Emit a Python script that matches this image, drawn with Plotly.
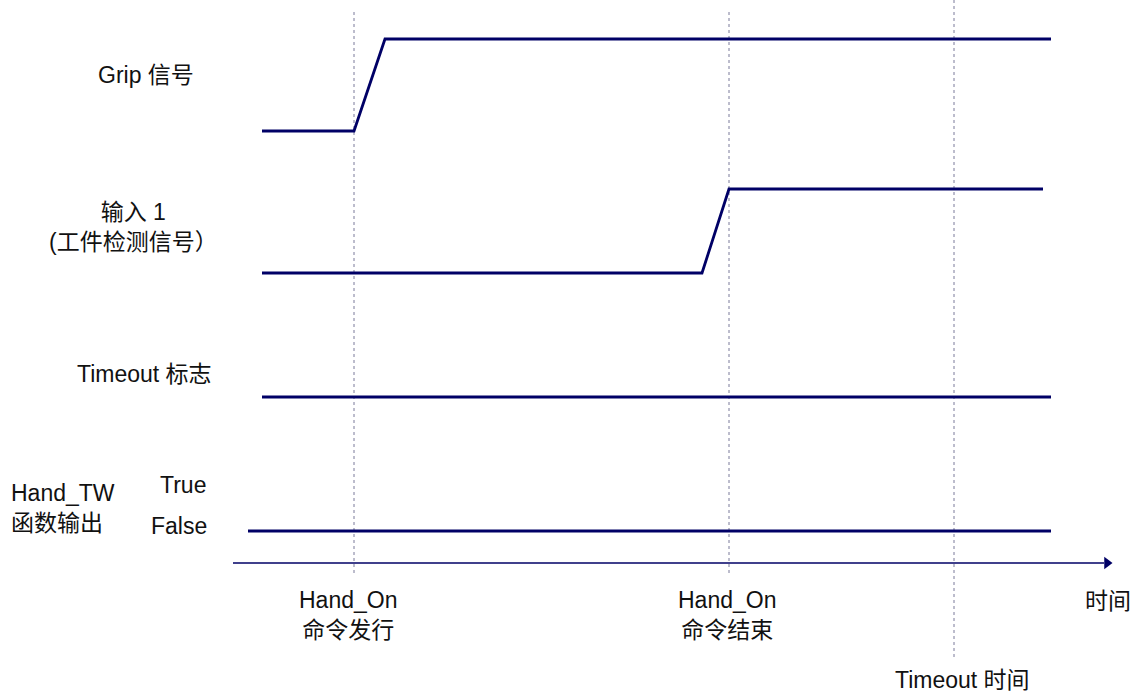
import plotly.graph_objects as go

# ---- data (time in diagram units, levels 0/1) ----
t_hand_on_start = 354
t_hand_on_end = 729
t_timeout = 954

grip_t = [262, 354, 385, 1051]
grip_level = [0, 0, 1, 1]

input1_t = [262, 702, 729, 1043]
input1_level = [0, 0, 1, 1]

timeout_t = [262, 1051]
timeout_level = [0, 0]

handtw_t = [248, 1051]
handtw_level = [0, 0]

lane_labels = ["Grip 信号", "输入 1<br>(工件检测信号）", "Timeout 标志", "Hand_TW<br>函数输出"]
event_labels = ["Hand_On<br>命令发行", "Hand_On<br>命令结束", "Timeout 时间"]
axis_label = "时间"
state_labels = ["True", "False"]

# ---- layout helpers ----
W, H = 1133, 692
NAVY = "#000066"
GUIDE = "#7a7a9a"
FONT = "Arial, 'Liberation Sans', 'Noto Sans CJK SC', sans-serif"
FS = 23

lanes = [
    (grip_t, grip_level, 131, 92),
    (input1_t, input1_level, 273, 84),
    (timeout_t, timeout_level, 397, 40),
    (handtw_t, handtw_level, 531, 43),
]

fig = go.Figure()

for t, lv, base, amp in lanes:
    fig.add_trace(go.Scatter(
        x=t, y=[base - v * amp for v in lv], mode="lines",
        line=dict(color=NAVY, width=2.8), hoverinfo="skip", showlegend=False))

# time axis with arrow
axis_y = 563
fig.add_trace(go.Scatter(x=[233, 1104], y=[axis_y, axis_y], mode="lines",
                         line=dict(color=NAVY, width=1.4), hoverinfo="skip", showlegend=False))
fig.add_trace(go.Scatter(x=[1107], y=[axis_y], mode="markers",
                         marker=dict(symbol="triangle-right", size=11, color=NAVY),
                         hoverinfo="skip", showlegend=False))

# guide lines
guides = [(t_hand_on_start, 12, 576), (t_hand_on_end, 12, 576), (t_timeout, 0, 658)]
for gx, y0, y1 in guides:
    fig.add_shape(type="line", x0=gx, x1=gx, y0=y0, y1=y1, xref="x", yref="y",
                  line=dict(color=GUIDE, width=1, dash="3px,3px"), layer="below")

def label(x, y, text, align="center"):
    fig.add_annotation(x=x, y=y, text=text, showarrow=False, xref="x", yref="y",
                       font=dict(family=FONT, size=FS, color="#111111"), align=align,
                       xanchor="center", yanchor="middle")

label(146, 75, lane_labels[0])
label(133, 227, lane_labels[1])
label(144, 374, lane_labels[2])
fig.add_annotation(x=9, y=508, text=lane_labels[3], showarrow=False, xref="x", yref="y",
                   font=dict(family=FONT, size=FS, color="#111111"), align="left",
                   xanchor="left", yanchor="middle")
label(183, 485, state_labels[0])
label(179, 526, state_labels[1])

label(t_hand_on_start - 6, 615, event_labels[0])
label(t_hand_on_end - 2, 615, event_labels[1])
label(t_timeout + 8, 680, event_labels[2])
label(1108, 601, axis_label)

fig.update_layout(
    width=W, height=H, margin=dict(l=0, r=0, t=0, b=0),
    paper_bgcolor="white", plot_bgcolor="white",
    xaxis=dict(range=[0, W], visible=False, fixedrange=True),
    yaxis=dict(range=[H, 0], visible=False, fixedrange=True),
    showlegend=False,
)

fig.write_html(
    "out.html",
    config={"displayModeBar": False, "staticPlot": True},
    post_script="document.body.style.margin='0';document.body.style.overflow='hidden';",
)
